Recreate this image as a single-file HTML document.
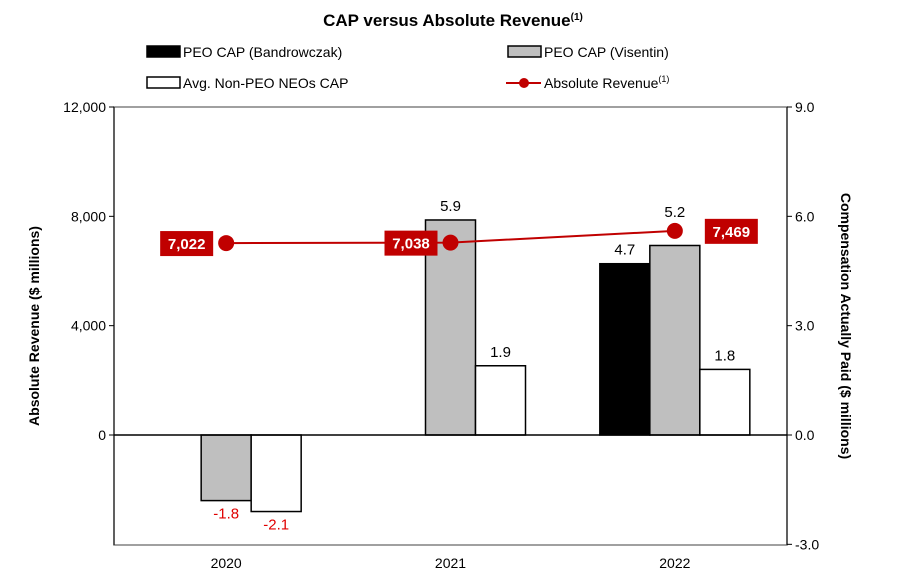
<!DOCTYPE html>
<html><head><meta charset="utf-8"><style>
body{margin:0;background:#fff;}
svg{display:block;font-family:"Liberation Sans",Arial,sans-serif;}
</style></head><body>
<svg id="chart" width="906" height="582"></svg>
<script>
const categories=["2020","2021","2022"];
const bandrowczak=[null,null,4.7];
const visentin=[-1.8,5.9,5.2];
const nonPeo=[-2.1,1.9,1.8];
const revenue=[7022,7038,7469];
const revenueLabels=["7,022","7,038","7,469"];
const leftTicks=[0,4000,8000,12000];
const leftTickLabels=["0","4,000","8,000","12,000"];
const rightTicks=[-3,0,3,6,9];
const rightTickLabels=["-3.0","0.0","3.0","6.0","9.0"];

const NS="http://www.w3.org/2000/svg";
const svg=document.getElementById('chart');
function el(tag,attrs,parent){const e=document.createElementNS(NS,tag);for(const k in attrs)e.setAttribute(k,attrs[k]);(parent||svg).appendChild(e);return e;}
const X0=114,X1=787,YT=107,Y0=435,YB=545;
const yL=v=>Y0-(v/12000)*(Y0-YT);
const yR=v=>Y0-(v/9)*(Y0-YT);
const bw=(X1-X0)/categories.length;
const xc=i=>X0+bw*(i+0.5);
const barW=50;

let t=el('text',{x:453,y:26,'text-anchor':'middle','font-size':17,'font-weight':'bold'});

t.innerHTML='CAP versus Absolute Revenue<tspan font-size="10" dy="-6">(1)</tspan>';

function legendBox(x,y,fill,label,name){
 const g=el('g',{});
 el('rect',{x:x,y:y-6,width:33,height:11,fill:fill,stroke:'#000','stroke-width':1.5},g);
 const tx=el('text',{x:x+36,y:y+5,'font-size':14},g);tx.innerHTML=label;
}
legendBox(147,52,'#000','PEO CAP (Bandrowczak)','legend-entry-bandrowczak');
legendBox(508,52,'#bfbfbf','PEO CAP (Visentin)','legend-entry-visentin');
legendBox(147,83,'#fff','Avg. Non-PEO NEOs CAP','legend-entry-non-peo');
{const g=el('g',{});
 el('line',{x1:506,y1:83,x2:541,y2:83,stroke:'#c00000','stroke-width':2},g);
 el('circle',{cx:524,cy:83,r:5,fill:'#c00000'},g);
 const tx=el('text',{x:544,y:88,'font-size':14},g);tx.innerHTML='Absolute Revenue<tspan font-size="9" dy="-6">(1)</tspan>';}

let f=el('rect',{x:X0,y:YT,width:X1-X0,height:YB-YT,fill:'none',stroke:'#808080','stroke-width':1.5});

el('line',{x1:X0,y1:YT,x2:X0,y2:YB,stroke:'#000','stroke-width':1});
el('line',{x1:X1,y1:YT,x2:X1,y2:YB,stroke:'#000','stroke-width':1});

leftTicks.forEach((v,i)=>{el('line',{x1:X0-5,y1:yL(v),x2:X0,y2:yL(v),stroke:'#000'});
 const tx=el('text',{x:X0-8,y:yL(v)+5,'text-anchor':'end','font-size':14});tx.textContent=leftTickLabels[i];
 });
rightTicks.forEach((v,i)=>{el('line',{x1:X1,y1:yR(v),x2:X1+5,y2:yR(v),stroke:'#000'});
 const tx=el('text',{x:X1+8,y:yR(v)+5,'font-size':14});tx.textContent=rightTickLabels[i];
 });

let yt=el('text',{transform:'translate(39,326) rotate(-90)','text-anchor':'middle','font-size':14,'font-weight':'bold'});
yt.textContent='Absolute Revenue ($ millions)';
let yt2=el('text',{transform:'translate(841,326) rotate(90)','text-anchor':'middle','font-size':14,'font-weight':'bold'});
yt2.textContent='Compensation Actually Paid ($ millions)';

const series=[[bandrowczak,'#000','bar-bandrowczak'],[visentin,'#bfbfbf','bar-visentin'],[nonPeo,'#fff','bar-non-peo']];
const labelQueue=[];
categories.forEach((c,i)=>{
 const tx=el('text',{x:xc(i),y:568,'text-anchor':'middle','font-size':14});tx.textContent=c;
 
 series.forEach((s,j)=>{const v=s[0][i];if(v==null)return;
  const x=xc(i)+(j-1.5)*barW;const y1=yR(Math.max(v,0)),y2=yR(Math.min(v,0));
  const r=el('rect',{x:x,y:y1,width:barW,height:y2-y1,fill:s[1],stroke:'#000','stroke-width':1.5});
  
  const neg=v<0;
  let ly=neg?y2+18:y1-9;
  const cx=x+barW/2;
  // avoid the revenue marker
  const ry=yL(revenue[i]);
  if(!neg && Math.abs(cx-xc(i))<barW && Math.abs(ly-5-ry)<14) ly=ry-14;
  labelQueue.push([cx,ly,v,neg]);
 });
});
el('line',{x1:X0,y1:Y0,x2:X1,y2:Y0,stroke:'#000','stroke-width':1.5});

let pts=revenue.map((v,i)=>xc(i)+','+yL(v)).join(' ');
let pl=el('polyline',{points:pts,fill:'none',stroke:'#c00000','stroke-width':2});


labelQueue.forEach(([cx,ly,v,neg])=>{
 const g=el('g',{});
 el('rect',{x:cx-14,y:ly-14,width:28,height:18,fill:'#fff'},g);
 const lb=el('text',{x:cx,y:ly,'text-anchor':'middle','font-size':15,fill:neg?'#e00000':'#000'},g);
 lb.textContent=v.toFixed(1);
});

revenue.forEach((v,i)=>{
 const c=el('circle',{cx:xc(i),cy:yL(v),r:8,fill:'#c00000'});
 
 const right=i===revenue.length-1;
 const bx=right?xc(i)+30:xc(i)-66;
 const g=el('g',{});
 el('rect',{x:bx,y:yL(v)-12,width:53,height:25,fill:'#c00000'},g);
 const tx=el('text',{x:bx+26.5,y:yL(v)+6,'text-anchor':'middle','font-size':15,'font-weight':'bold',fill:'#fff'},g);
 tx.textContent=revenueLabels[i];
});
</script>
</body></html>
